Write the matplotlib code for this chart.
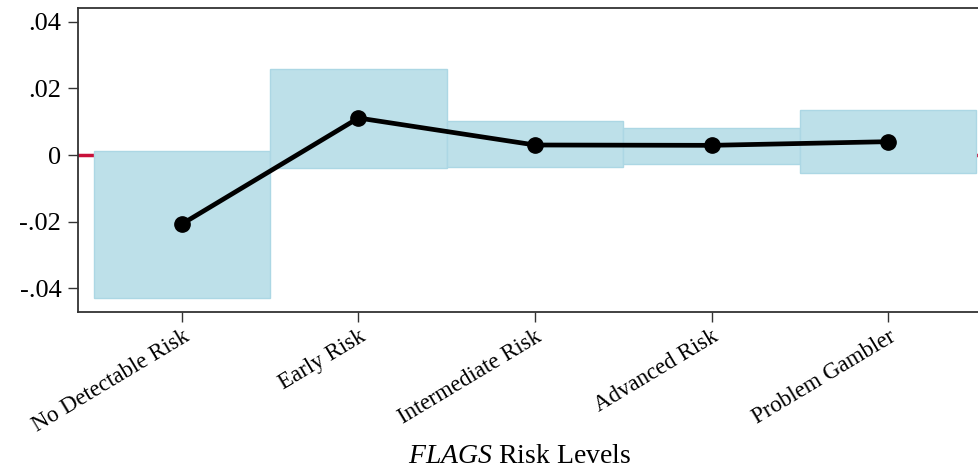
import matplotlib
matplotlib.use("Agg")
import matplotlib.pyplot as plt

categories = ["No Detectable Risk", "Early Risk", "Intermediate Risk", "Advanced Risk", "Problem Gambler"]
estimates = [-0.0207, 0.0111, 0.0030, 0.0029, 0.0040]
ci_low = [-0.0429, -0.0039, -0.0037, -0.0027, -0.0054]
ci_high = [0.0012, 0.0259, 0.0102, 0.0080, 0.0135]
ytick_vals = [-0.04, -0.02, 0, 0.02, 0.04]
ytick_labels = ["-.04", "-.02", "0", ".02", ".04"]

plt.rcParams['font.family'] = ['Liberation Serif', 'DejaVu Serif']
plt.rcParams['mathtext.fontset'] = 'custom'
plt.rcParams['mathtext.rm'] = 'Liberation Serif'
plt.rcParams['mathtext.it'] = 'Liberation Serif:italic'

fig = plt.figure(figsize=(9.79, 4.71), dpi=100)
W, H = 979, 471
left, right, top, bottom = 78, 992, 8, 312
ax = fig.add_axes([left / W, (H - bottom) / H, (right - left) / W, (bottom - top) / H])

x = list(range(1, len(categories) + 1))
ax.axhline(0, color='#c8103a', lw=2.5, zorder=1)
heights = [h - l for h, l in zip(ci_high, ci_low)]
ax.bar(x, heights, bottom=ci_low, width=1.0, color='#bde0e9', edgecolor='#acd7e4',
       linewidth=1.0, zorder=2)
ax.plot(x, estimates, color='black', lw=3.4, marker='o', markersize=11, zorder=3)

ax.set_xlim(0.411, 5.589)
ax.set_ylim(-0.0471, 0.0441)
ax.set_yticks(ytick_vals)
ax.set_yticklabels(ytick_labels, fontsize=19)
ax.set_xticks(x)
ax.set_xticklabels(categories, rotation=31, ha='right', rotation_mode='anchor', fontsize=16.5)
ax.tick_params(axis='both', direction='out', length=7, width=1.0, color='#333333', pad=5)
ax.tick_params(axis='x', pad=3)
for s in ax.spines.values():
    s.set_color('#333333')
    s.set_linewidth(1.3)

fig.text(520 / W, (H - 463) / H, r'$\mathit{FLAGS}$ Risk Levels', ha='center', va='baseline', fontsize=20)

fig.savefig('out.png', dpi=100)
